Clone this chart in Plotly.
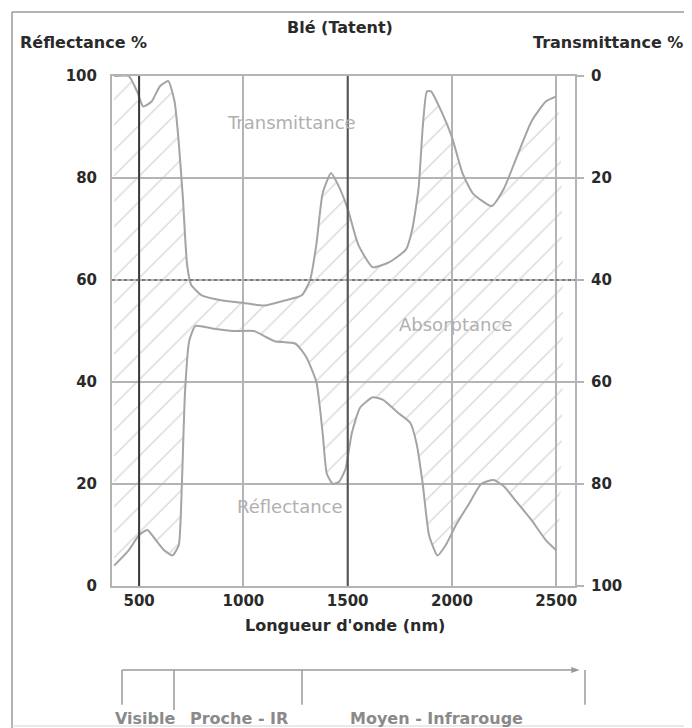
import plotly.graph_objects as go

# Wavelength (nm) and reflectance (%)
refl_nm = [380, 450, 500, 540, 580, 620, 660, 690, 705, 720, 740, 770, 850, 950, 1050, 1100,
           1150, 1250, 1300, 1350, 1380, 1400, 1430, 1460, 1490, 1520, 1560, 1620, 1670, 1740,
           1800, 1830, 1860, 1890, 1930, 1970, 2020, 2080, 2140, 2200, 2250, 2300, 2380, 2450, 2500]
refl_pct = [4, 7, 10, 11, 9, 7, 6, 8, 20, 38, 48, 51, 50.5, 50, 50, 49,
            48, 47.5, 45, 40, 30, 22, 20, 20.5, 23, 30, 35, 37, 36.5, 34,
            32, 28, 20, 10, 6, 8, 12, 16, 20, 20.8, 19.5, 17, 13, 9, 7]

# Transmittance curve, drawn in reflectance coordinates (100 - T%)
trans_nm = [380, 450, 490, 520, 560, 600, 640, 670, 690, 710, 730, 750, 800, 900, 1000, 1100,
            1200, 1280, 1320, 1350, 1380, 1420, 1450, 1500, 1550, 1620, 1700, 1780, 1810, 1840,
            1860, 1880, 1900, 1950, 2000, 2050, 2100, 2190, 2250, 2300, 2380, 2450, 2500]
trans_top = [100, 100, 97, 94, 95, 98, 99, 95, 87, 76, 63, 59, 57, 56, 55.5, 55,
             56, 57, 60, 67, 77, 81, 79, 74, 67, 62.5, 63.5, 66, 70, 78,
             90, 97, 97, 93, 88, 81, 77, 74.5, 78, 83, 91, 95, 96]

x_ticks = [500, 1000, 1500, 2000, 2500]
x_ticktext = ["500", "1000", "1500", "2000", "2500"]
y_ticks = [0, 20, 40, 60, 80, 100]
t_ticks = [0, 20, 40, 60, 80, 100]

title_txt = "Blé (Tatent)"
left_title = "Réflectance %"
right_title = "Transmittance %"
x_title = "Longueur d'onde (nm)"
region_labels = ["Visible", "Proche - IR", "Moyen - Infrarouge"]

FONT = "DejaVu Sans, Verdana, sans-serif"
DARK = "#2a2a2a"
CURVE = "#a4a4a4"
GRID = "#b4b4b4"

fig = go.Figure()

# Absorptance hatched area between the two curves
poly_x = refl_nm + trans_nm[::-1]
poly_y = refl_pct + trans_top[::-1]
fig.add_trace(go.Scatter(
    x=poly_x, y=poly_y, mode="lines", fill="toself",
    line=dict(width=0, shape="spline", smoothing=0.5),
    fillcolor="rgba(255,255,255,0)",
    fillpattern=dict(shape="/", fgcolor="#b4b4b4", bgcolor="rgba(255,255,255,0)",
                     size=18, solidity=0.08),
    hoverinfo="skip", showlegend=False))

fig.add_trace(go.Scatter(x=refl_nm, y=refl_pct, mode="lines",
                         line=dict(color=CURVE, width=2, shape="spline", smoothing=0.5),
                         showlegend=False, name="Réflectance"))
fig.add_trace(go.Scatter(x=trans_nm, y=trans_top, mode="lines",
                         line=dict(color=CURVE, width=2, shape="spline", smoothing=0.5),
                         showlegend=False, name="Transmittance"))
# dummy trace for right axis
fig.add_trace(go.Scatter(x=[None], y=[None], yaxis="y2", showlegend=False))

tickfont = dict(family=FONT, size=15, color=DARK, weight="bold")

# the page adds an 8px body margin, so the figure is 8px smaller and shifted
fig.update_layout(
    width=684, height=720,
    margin=dict(l=104, r=117, t=68, b=142),
    paper_bgcolor="white", plot_bgcolor="white",
    xaxis=dict(range=[370, 2590], tickvals=x_ticks, ticktext=x_ticktext,
               showgrid=True, gridcolor=GRID, gridwidth=2,
               showline=True, linecolor=GRID, linewidth=2, mirror=True,
               zeroline=False, tickfont=tickfont, ticks=""),
    yaxis=dict(range=[0, 100], tickvals=y_ticks, showgrid=True, gridcolor=GRID, gridwidth=2,
               showline=True, linecolor=GRID, linewidth=2, mirror=True,
               zeroline=False, tickfont=tickfont, ticks="", ticklabelstandoff=10),
    yaxis2=dict(range=[100, 0], tickvals=t_ticks, overlaying="y", side="right",
                showgrid=False, zeroline=False, tickfont=tickfont,
                ticks="outside", ticklen=8, tickwidth=2, tickcolor=GRID,
                ticklabelstandoff=4),
    showlegend=False,
)

# darker scanned grid lines
fig.add_shape(type="line", xref="x", yref="paper", x0=500, x1=500, y0=0, y1=1,
              line=dict(color="#3a3a3a", width=2))
fig.add_shape(type="line", xref="x", yref="paper", x0=1500, x1=1500, y0=0, y1=1,
              line=dict(color="#555555", width=2))
fig.add_shape(type="line", xref="paper", yref="y", x0=0, x1=1, y0=60, y1=60,
              line=dict(color="#666666", width=1.5, dash="dot"))

# in-plot labels
lab_font = dict(family=FONT, size=18, color="#b0b0b0")
fig.add_annotation(x=1229, y=90.8, text="Transmittance", showarrow=False, font=lab_font)
fig.add_annotation(x=2016, y=51.2, text="Absorptance", showarrow=False, font=lab_font)
fig.add_annotation(x=1224, y=15.5, text="Réflectance", showarrow=False, font=lab_font)

# titles
tfont = dict(family=FONT, size=16, color=DARK, weight="bold")
fig.add_annotation(xref="paper", yref="paper", x=0.492, y=1.096, xanchor="center", yanchor="middle",
                   text=title_txt, showarrow=False, font=tfont)
fig.add_annotation(xref="paper", yref="paper", x=-0.203, y=1.065, xanchor="left", yanchor="middle",
                   text=left_title, showarrow=False, font=tfont)
fig.add_annotation(xref="paper", yref="paper", x=1.2376, y=1.065, xanchor="right", yanchor="middle",
                   text=right_title, showarrow=False, font=tfont)
fig.add_annotation(xref="paper", yref="paper", x=0.503, y=-0.077, xanchor="center", yanchor="middle",
                   text=x_title, showarrow=False, font=tfont)

# page frame
frame = dict(color="#9a9a9a", width=1.5)
fig.add_shape(type="line", xref="paper", yref="paper", x0=-0.216, x1=1.26, y0=1.1255, y1=1.1255, line=frame)
fig.add_shape(type="line", xref="paper", yref="paper", x0=-0.216, x1=-0.216, y0=1.1255, y1=-0.285, line=frame)
fig.add_shape(type="line", xref="paper", yref="paper", x0=-0.216, x1=1.26, y0=-0.2745, y1=-0.2745,
              line=dict(color="#d4d4d4", width=1))

# spectral regions diagram
dg = dict(color="#9a9a9a", width=1.5)
yl = -0.1647
fig.add_shape(type="line", xref="paper", yref="paper", x0=0.0216, x1=1.0, y0=yl, y1=yl, line=dg)
fig.add_shape(type="path", xref="paper", yref="paper",
              path=f"M 0.992 {yl+0.006} L 1.010 {yl} L 0.992 {yl-0.006} Z",
              fillcolor="#9a9a9a", line=dict(width=0))
for xp, yb in [(0.0216, -0.233), (0.1339, -0.243), (0.4104, -0.233), (1.0216, -0.233)]:
    fig.add_shape(type="line", xref="paper", yref="paper", x0=xp, x1=xp, y0=yl, y1=yb, line=dg)

rfont = dict(family=FONT, size=16, color="#8a8a8a", weight="bold")
for txt, xp in zip(region_labels, [0.002, 0.164, 0.51]):
    fig.add_annotation(xref="paper", yref="paper", x=xp, y=-0.259, xanchor="left", yanchor="middle",
                       text=txt, showarrow=False, font=rfont)

fig.write_html("out.html")
